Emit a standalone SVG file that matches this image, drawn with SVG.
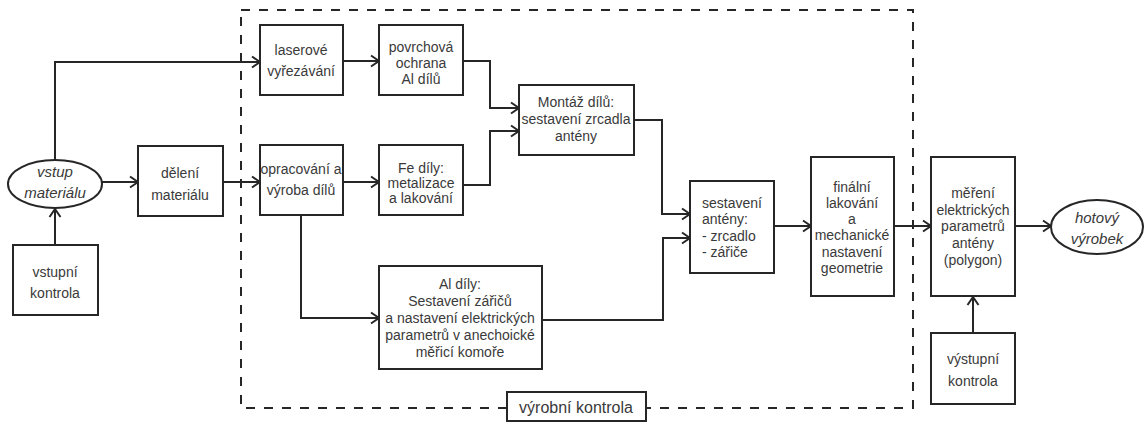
<svg xmlns="http://www.w3.org/2000/svg" width="1146" height="428" viewBox="0 0 1146 428">
<defs>
<marker id="arr" markerUnits="userSpaceOnUse" markerWidth="12" markerHeight="14" refX="10" refY="7" orient="auto" viewBox="0 0 12 14">
<path d="M2,1.5 L10,7 L2,12.5" fill="none" stroke="#262626" stroke-width="2"/>
</marker>
<style>
.b{fill:#fff;stroke:#262626;stroke-width:2}
.c{fill:none;stroke:#262626;stroke-width:2;marker-end:url(#arr)}
text{font-family:"Liberation Sans",Arial,sans-serif;font-size:14px;fill:#3a3a3a;text-anchor:middle}
.i{font-style:italic;font-size:15px}
.l{text-anchor:start}
</style>
</defs>
<rect width="1146" height="428" fill="#fff"/>
<rect id="frame" x="241" y="10" width="672" height="398" fill="none" stroke="#262626" stroke-width="2" stroke-dasharray="9,9"/>
<g id="connectors">
<path class="c" d="M55,245 L55,209"/>
<path class="c" d="M55,160 L55,62 L260,62"/>
<path class="c" d="M102,182 L138,182"/>
<path class="c" d="M223,182 L260,182"/>
<path class="c" d="M343,61 L379,61"/>
<path class="c" d="M343,182 L379,182"/>
<path class="c" d="M463,61 L490,61 L490,108 L519,108"/>
<path class="c" d="M463,185 L490,185 L490,131 L519,131"/>
<path class="c" d="M301,215 L301,318 L379,318"/>
<path class="c" d="M634,120 L662,120 L662,214 L690,214"/>
<path class="c" d="M542,320 L663,320 L663,238 L690,238"/>
<path class="c" d="M774,226 L811,226"/>
<path class="c" d="M894,226 L931,226"/>
<path class="c" d="M1015,226 L1051,226"/>
<path class="c" d="M973,333 L973,297"/>
</g>
<g id="vstup"><ellipse class="b" cx="55" cy="184" rx="47" ry="24"/><text class="i" x="55" y="177">vstup</text><text class="i" x="55" y="198">materiálu</text></g>
<g id="vstupni"><rect class="b" x="13" y="245" width="85" height="70"/><text x="55" y="277">vstupní</text><text x="55" y="298">kontrola</text></g>
<g id="deleni"><rect class="b" x="138" y="146" width="85" height="70"/><text x="180" y="178">dělení</text><text x="180" y="200">materiálu</text></g>
<g id="laser"><rect class="b" x="260" y="25" width="83" height="70"/><text x="301" y="55">laserové</text><text x="301" y="76">vyřezávání</text></g>
<g id="povrch"><rect class="b" x="379" y="25" width="84" height="70"/><text x="421" y="52">povrchová</text><text x="421" y="68">ochrana</text><text x="421" y="84">Al dílů</text></g>
<g id="montaz"><rect class="b" x="519" y="85" width="115" height="70"/><text x="576" y="107">Montáž dílů:</text><text x="576" y="124">sestavení zrcadla</text><text x="576" y="141">antény</text></g>
<g id="oprac"><rect class="b" x="260" y="145" width="83" height="70"/><text x="301" y="174">opracování a</text><text x="301" y="195">výroba dílů</text></g>
<g id="fe"><rect class="b" x="379" y="145" width="84" height="70"/><text x="421" y="173">Fe díly:</text><text x="421" y="188">metalizace</text><text x="421" y="203">a lakování</text></g>
<g id="al"><rect class="b" x="379" y="266" width="163" height="103"/><text x="460" y="289">Al díly:</text><text x="460" y="306">Sestavení zářičů</text><text x="460" y="323">a nastavení elektrických</text><text x="460" y="340">parametrů v anechoické</text><text x="460" y="357">měřicí komoře</text></g>
<g id="sestaveni"><rect class="b" x="690" y="181" width="84" height="92"/><text class="l" x="702" y="208">sestavení</text><text class="l" x="702" y="224">antény:</text><text class="l" x="702" y="241">- zrcadlo</text><text class="l" x="702" y="257">- zářiče</text></g>
<g id="finalni"><rect class="b" x="811" y="157" width="83" height="139"/><text x="852" y="192">finální</text><text x="852" y="208">lakování</text><text x="852" y="224">a</text><text x="852" y="240">mechanické</text><text x="852" y="257">nastavení</text><text x="852" y="273">geometrie</text></g>
<g id="mereni"><rect class="b" x="931" y="157" width="84" height="139"/><text x="973" y="198">měření</text><text x="973" y="215">elektrických</text><text x="973" y="231">parametrů</text><text x="973" y="248">antény</text><text x="973" y="265">(polygon)</text></g>
<g id="hotovy"><ellipse class="b" cx="1097" cy="227" rx="46" ry="27"/><text class="i" x="1097" y="223">hotový</text><text class="i" x="1097" y="244">výrobek</text></g>
<g id="vystupni"><rect class="b" x="931" y="333" width="84" height="71"/><text x="973" y="364">výstupní</text><text x="973" y="386">kontrola</text></g>
<g id="vyrobni"><rect class="b" x="507" y="392" width="139" height="29"/><text x="576" y="413" style="font-size:16px">výrobní kontrola</text></g>
</svg>
